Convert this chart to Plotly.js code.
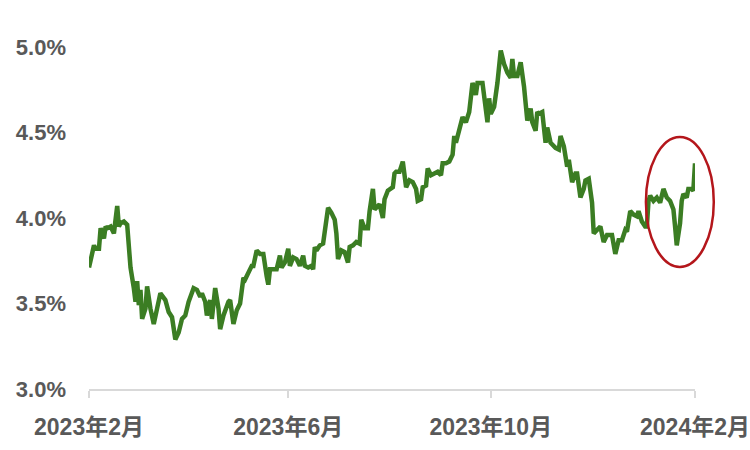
<!DOCTYPE html>
<html>
<head>
<meta charset="utf-8">
<script src="https://cdn.plot.ly/plotly-3.0.1.min.js"></script>
<style>html,body{margin:0;padding:0;background:#fff;}#chart{width:750px;height:450px;}</style>
</head>
<body>
<div id="chart"></div>
<script>
const dates = [
"2023-02-01","2023-02-04","2023-02-05","2023-02-07","2023-02-08","2023-02-10","2023-02-11","2023-02-12","2023-02-14","2023-02-16",
"2023-02-18","2023-02-19","2023-02-20","2023-02-22","2023-02-24","2023-02-26","2023-02-28","2023-03-01","2023-03-02","2023-03-03",
"2023-03-04","2023-03-05","2023-03-07","2023-03-08","2023-03-10","2023-03-12","2023-03-14","2023-03-16","2023-03-19","2023-03-21",
"2023-03-23","2023-03-25","2023-03-27","2023-03-29","2023-03-31","2023-04-02","2023-04-05","2023-04-07","2023-04-09","2023-04-10",
"2023-04-12","2023-04-13","2023-04-15","2023-04-16","2023-04-18","2023-04-20","2023-04-21","2023-04-23","2023-04-26","2023-04-27",
"2023-04-29","2023-05-01","2023-05-03","2023-05-05","2023-05-06","2023-05-08","2023-05-10","2023-05-11","2023-05-13","2023-05-15",
"2023-05-17","2023-05-19","2023-05-20","2023-05-21","2023-05-24","2023-05-25","2023-05-27","2023-05-28","2023-05-30","2023-06-01",
"2023-06-02","2023-06-04","2023-06-06","2023-06-08","2023-06-10","2023-06-11","2023-06-13","2023-06-15","2023-06-16","2023-06-17",
"2023-06-18","2023-06-20","2023-06-22","2023-06-24","2023-06-25","2023-06-27","2023-06-29","2023-06-30","2023-07-01","2023-07-03",
"2023-07-05","2023-07-07","2023-07-08","2023-07-10","2023-07-12","2023-07-14","2023-07-15","2023-07-17","2023-07-19","2023-07-20",
"2023-07-22","2023-07-23","2023-07-25","2023-07-26","2023-07-28","2023-07-29","2023-07-31","2023-08-03","2023-08-04","2023-08-05",
"2023-08-07","2023-08-09","2023-08-11","2023-08-13","2023-08-15","2023-08-17","2023-08-18","2023-08-20","2023-08-21","2023-08-23",
"2023-08-24","2023-08-26","2023-08-28","2023-08-30","2023-09-01","2023-09-02","2023-09-04","2023-09-06","2023-09-08","2023-09-09",
"2023-09-10","2023-09-12","2023-09-14","2023-09-16","2023-09-18","2023-09-20","2023-09-22","2023-09-23","2023-09-26","2023-09-29",
"2023-09-30","2023-10-01","2023-10-03","2023-10-05","2023-10-06","2023-10-07","2023-10-09","2023-10-11","2023-10-13","2023-10-14",
"2023-10-15","2023-10-17","2023-10-19","2023-10-21","2023-10-23","2023-10-25","2023-10-26","2023-10-28","2023-10-29","2023-10-30",
"2023-11-01","2023-11-03","2023-11-04","2023-11-06","2023-11-09","2023-11-11","2023-11-12","2023-11-14","2023-11-16","2023-11-17",
"2023-11-19","2023-11-21","2023-11-22","2023-11-24","2023-11-26","2023-11-27","2023-11-29","2023-12-01","2023-12-02","2023-12-04",
"2023-12-06","2023-12-08","2023-12-10","2023-12-13","2023-12-15","2023-12-17","2023-12-19","2023-12-21","2023-12-22","2023-12-24",
"2023-12-26","2023-12-28","2023-12-29","2023-12-31","2024-01-02","2024-01-03","2024-01-04","2024-01-05","2024-01-07","2024-01-09",
"2024-01-11","2024-01-13","2024-01-15","2024-01-17","2024-01-19","2024-01-20","2024-01-21","2024-01-23","2024-01-24","2024-01-25",
"2024-01-27","2024-01-28","2024-01-30","2024-01-31","2024-02-01"
];
const yields = [
3.71,3.84,3.82,3.82,3.94,3.88,3.95,3.94,3.95,3.91,
4.07,3.95,3.97,3.98,3.96,3.71,3.59,3.51,3.63,3.49,
3.58,3.41,3.47,3.60,3.47,3.38,3.47,3.56,3.52,3.45,
3.42,3.29,3.33,3.41,3.43,3.51,3.59,3.58,3.54,3.56,
3.51,3.43,3.52,3.41,3.59,3.47,3.35,3.43,3.51,3.52,
3.38,3.46,3.50,3.65,3.64,3.68,3.72,3.72,3.81,3.79,
3.79,3.66,3.61,3.70,3.70,3.70,3.78,3.71,3.74,3.82,
3.72,3.77,3.76,3.72,3.78,3.72,3.71,3.72,3.70,3.83,
3.81,3.84,3.85,4.01,4.06,4.03,3.99,3.91,3.76,3.81,
3.80,3.74,3.83,3.84,3.86,3.85,3.99,3.94,3.94,4.04,
4.17,4.05,4.07,4.08,4.00,4.11,4.16,4.18,4.26,4.27,
4.27,4.33,4.18,4.22,4.21,4.17,4.10,4.11,4.18,4.19,
4.29,4.25,4.26,4.27,4.25,4.32,4.32,4.33,4.37,4.48,
4.44,4.51,4.59,4.56,4.62,4.79,4.72,4.79,4.79,4.56,
4.70,4.61,4.65,4.79,4.90,4.98,4.90,4.85,4.82,4.93,
4.83,4.83,4.91,4.77,4.57,4.64,4.56,4.51,4.62,4.61,
4.62,4.44,4.53,4.44,4.41,4.40,4.48,4.42,4.30,4.34,
4.21,4.26,4.26,4.12,4.17,4.22,4.23,4.09,3.91,3.93,
3.95,3.86,3.90,3.90,3.79,3.87,3.87,3.93,3.92,4.04,
4.02,4.01,4.04,3.98,3.95,3.95,4.10,4.13,4.10,4.12,
4.09,4.17,4.12,4.10,4.05,3.95,3.84,3.97,4.10,4.14,
4.12,4.17,4.17,4.16,4.32
];
const xRange = ["2023-02-01", "2024-02-01"];
const yRange = [3.0, 5.0];

const font = {family: "Liberation Sans, Arial, 'Noto Sans CJK SC', sans-serif", size: 22, color: "#595959", weight: "bold"};
const xfont = Object.assign({}, font, {size: 23});

Plotly.newPlot("chart", [{
  type: "scatter", mode: "lines", x: dates, y: yields,
  line: {color: "#3b7d23", width: 4.5}, hoverinfo: "skip"
}], {
  width: 750, height: 450,
  margin: {l: 89, r: 55, t: 47, b: 61},
  paper_bgcolor: "#ffffff", plot_bgcolor: "#ffffff",
  showlegend: false,
  font: font,
  xaxis: {
    type: "date", range: xRange, tick0: "2023-02-01", dtick: "M4",
    tickformat: "%Y年%-m月", showgrid: false, zeroline: false,
    showline: true, linecolor: "#d9d9d9", linewidth: 1.5,
    ticks: "outside", ticklen: 7, tickcolor: "#d9d9d9", tickwidth: 1.5,
    tickfont: xfont, ticklabelstandoff: 10, automargin: false
  },
  yaxis: {
    range: yRange, dtick: 0.5, tick0: 3, tickformat: ".1f", ticksuffix: "%",
    showgrid: false, zeroline: false, showline: false, ticks: "",
    tickfont: font, ticklabelstandoff: 22, automargin: false
  },
  shapes: [{
    type: "circle", xref: "paper", yref: "paper",
    x0: 0.919, x1: 1.031, y0: 0.357, y1: 0.737,
    line: {color: "#b4161b", width: 2.5}, fillcolor: "rgba(0,0,0,0)"
  }]
}, {staticPlot: true});
</script>
</body>
</html>
